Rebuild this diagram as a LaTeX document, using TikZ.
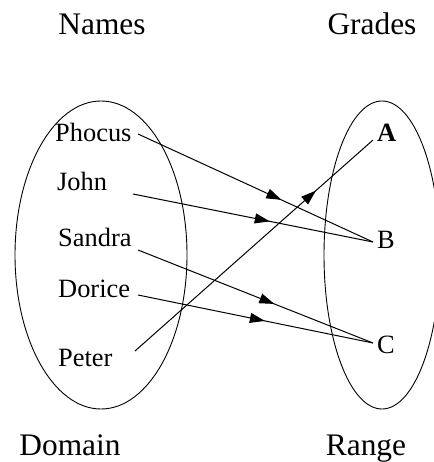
\documentclass[tikz,border=0pt]{standalone}
\usepackage{fontspec}
\setmainfont{Liberation Serif}
\usetikzlibrary{arrows.meta,decorations.markings}
\begin{document}
\begin{tikzpicture}[x=1bp,y=-1bp,
  lbl/.style={inner sep=0pt,font=\fontsize{26.5}{30}\selectfont},
  ttl/.style={inner sep=0pt,font=\fontsize{31.5}{36}\selectfont},
  setring/.style={draw,line width=0.9bp},
  mapline/.style={line width=1bp,postaction={decorate},
    decoration={markings,mark=at position #1 with {\arrow{Triangle[length=15bp,width=10bp]}}}}]
\useasboundingbox (0,0) rectangle (434,462);
\clip (0,0) rectangle (434,462);
% set ellipses
\draw[setring] (101,255) ellipse [x radius=86, y radius=154];
\draw[setring] (382,255) ellipse [x radius=58, y radius=154];
% titles
\node[ttl,anchor=base] (names) at (102,35) {Names};
\node[ttl,anchor=base] (grades) at (372,35) {Grades};
\node[ttl,anchor=base] (domain) at (70,455) {Domain};
\node[ttl,anchor=base] (range) at (366,455) {Range};
% domain elements
\node[lbl,anchor=base west] (phocus) at (55,142) {Phocus};
\node[lbl,anchor=base west] (john) at (57,191) {John};
\node[lbl,anchor=base west] (sandra) at (58,246) {Sandra};
\node[lbl,anchor=base west] (dorice) at (58,297) {Dorice};
\node[lbl,anchor=base west] (peter) at (58,366) {Peter};
% range elements
\node[lbl,anchor=base west,font=\fontsize{26.5}{30}\selectfont\bfseries] (gA) at (377,142) {A};
\node[lbl,anchor=base west] (gB) at (377,248) {B};
\node[lbl,anchor=base west] (gC) at (377,353) {C};
% connector ends
\coordinate (phS) at (138,134);
\coordinate (joS) at (133,194);
\coordinate (saS) at (138,250);
\coordinate (doS) at (138,295);
\coordinate (peS) at (135,351);
\coordinate (aE) at (373,140);
\coordinate (bE) at (373,242);
\coordinate (cE) at (373,343);
% mappings
\draw[mapline=0.61] (phS) -- (bE);
\draw[mapline=0.57] (joS) -- (bE);
\draw[mapline=0.58] (saS) -- (cE);
\draw[mapline=0.54] (doS) -- (cE);
\draw[mapline=0.76] (peS) -- (aE);
\end{tikzpicture}
\end{document}
